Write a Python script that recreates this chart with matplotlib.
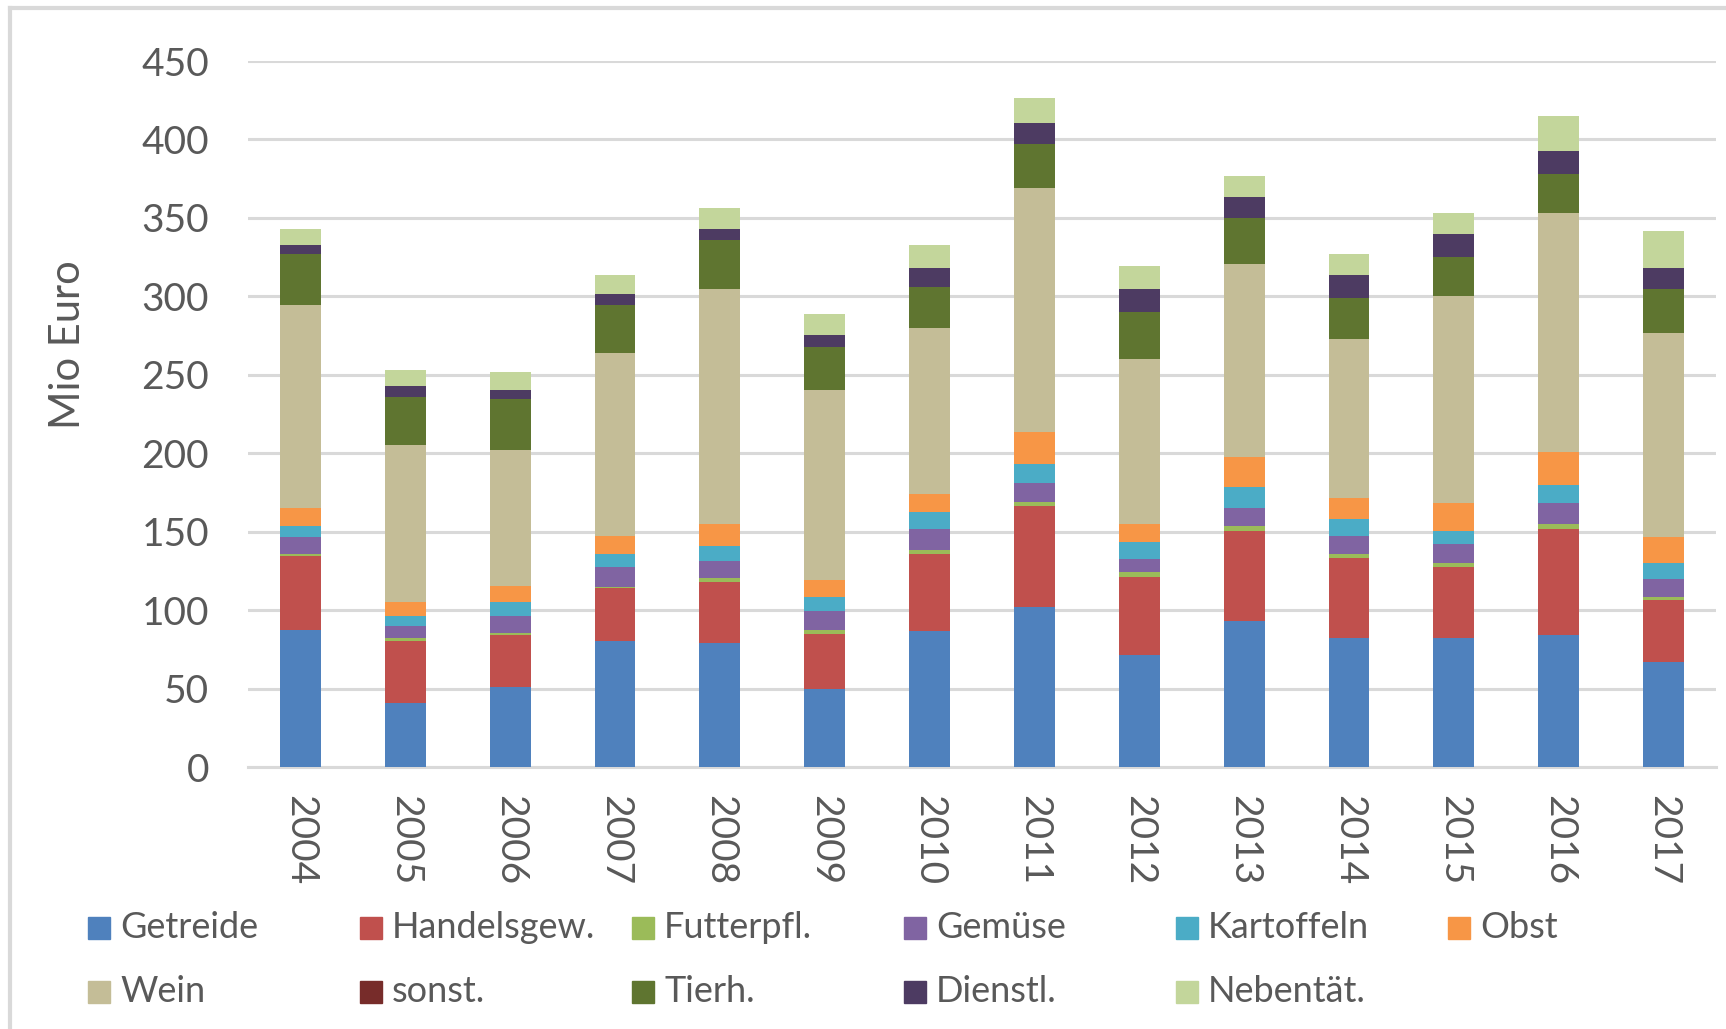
import matplotlib
matplotlib.use("Agg")
import matplotlib.pyplot as plt
import numpy as np
from matplotlib.patches import Rectangle
from matplotlib.lines import Line2D

plt.rcParams['font.family'] = ['Lato', 'DejaVu Sans']

# data (Mio Euro)
years = ['2004', '2005', '2006', '2007', '2008', '2009', '2010',
         '2011', '2012', '2013', '2014', '2015', '2016', '2017']
getreide = [87.2, 40.7, 50.8, 80.4, 78.8, 49.8, 86.9, 102.2, 71.3, 93.1, 82.0, 82.0, 84.3, 67.0]
handelsgew = [47.2, 39.7, 33.2, 33.5, 39.3, 34.8, 49.1, 64.4, 49.8, 57.2, 51.1, 45.2, 67.7, 39.7]
futterpfl = [1.6, 1.6, 1.6, 1.0, 2.6, 2.6, 2.6, 2.6, 2.9, 3.0, 2.6, 2.6, 2.9, 1.7]
gemuese = [10.4, 8.1, 10.7, 12.3, 10.8, 12.1, 13.4, 12.1, 8.8, 12.0, 11.7, 12.1, 13.3, 11.4]
kartoffeln = [7.2, 6.2, 8.8, 8.8, 9.1, 9.1, 10.4, 12.0, 10.7, 13.0, 10.4, 8.4, 11.8, 10.4]
obst = [11.7, 8.8, 10.1, 11.4, 14.3, 11.0, 11.7, 20.2, 11.4, 19.6, 13.4, 17.9, 20.5, 16.2]
wein = [129.2, 99.9, 86.6, 116.2, 149.7, 120.8, 105.8, 155.8, 105.4, 123.0, 101.5, 132.2, 152.6, 130.2]
sonst = [0, 0, 0, 0, 0, 0, 0, 0, 0, 0, 0, 0, 0, 0]
tierh = [32.2, 30.9, 32.5, 30.9, 31.2, 27.6, 26.0, 28.0, 29.6, 28.9, 26.0, 24.7, 24.7, 28.3]
dienstl = [5.9, 6.9, 5.9, 7.2, 6.9, 7.5, 12.4, 13.0, 15.0, 13.7, 14.7, 14.6, 15.0, 13.4]
nebentaet = [10.1, 10.4, 11.3, 11.7, 13.3, 13.3, 14.3, 16.3, 14.7, 13.0, 13.3, 13.4, 22.1, 23.1]

labels = ['Getreide', 'Handelsgew.', 'Futterpfl.', 'Gemüse', 'Kartoffeln', 'Obst',
          'Wein', 'sonst.', 'Tierh.', 'Dienstl.', 'Nebentät.']
series = [getreide, handelsgew, futterpfl, gemuese, kartoffeln, obst,
          wein, sonst, tierh, dienstl, nebentaet]
colors = ['#4F81BD', '#C0504D', '#9BBB59', '#8064A2', '#4BACC6', '#F79646',
          '#C4BD97', '#772C2A', '#5F7530', '#4D3B62', '#C3D69B']

W, H = 1726, 1029
txt = '#595959'
grid = '#D9D9D9'

fig = plt.figure(figsize=(W / 100, H / 100), dpi=100)
ax = fig.add_axes([248 / W, 1 - 767 / H, (1716 - 248) / W, (767 - 61) / H])

x = np.arange(len(years))
bottom = np.zeros(len(years))
for vals, c, lab in zip(series, colors, labels):
    ax.bar(x, vals, width=0.39, bottom=bottom, color=c, label=lab, zorder=3)
    bottom += np.array(vals)

ax.set_xlim(-0.5, len(years) - 0.5)
ax.set_ylim(0, 450)
ax.set_yticks(np.arange(0, 451, 50))
ax.yaxis.grid(True, color=grid, linewidth=2.2, zorder=0)
ax.set_axisbelow(True)
for s in ['top', 'right', 'left']:
    ax.spines[s].set_visible(False)
ax.spines['bottom'].set_color(grid)
ax.spines['bottom'].set_linewidth(2.2)

ax.set_xticks(x)
ax.set_xticklabels(years, rotation=-90, fontsize=28, color=txt)
ax.tick_params(axis='x', length=0, pad=20)
ax.tick_params(axis='y', length=0, pad=28, labelsize=28, labelcolor=txt)

fig.text(68 / W, 1 - 345 / H, 'Mio Euro', rotation=90, fontsize=30,
         color=txt, ha='center', va='center')

# legend, row-wise with equal column widths like the original
for i, (lab, c) in enumerate(zip(labels, colors)):
    col, row = i % 6, i // 6
    x0 = 88 + 272 * col
    yc = 928 + 64 * row
    fig.patches.append(Rectangle((x0 / W, 1 - (yc + 11) / H), 22 / W, 22 / H,
                                 transform=fig.transFigure, color=c))
    fig.text((x0 + 32) / W, 1 - yc / H, lab, fontsize=26, color=txt,
             ha='left', va='center')

# outer chart border (top and left visible)
fig.add_artist(Line2D([10 / W, 1], [1 - 8 / H, 1 - 8 / H], color=grid,
                      linewidth=3, transform=fig.transFigure))
fig.add_artist(Line2D([10 / W, 10 / W], [0, 1 - 8 / H], color=grid,
                      linewidth=3, transform=fig.transFigure))

fig.savefig('out.png', dpi=100)
